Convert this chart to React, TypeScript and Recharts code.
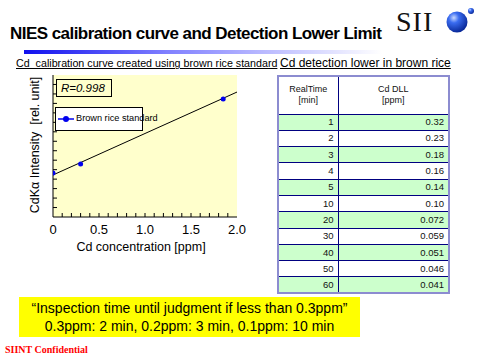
import React from "react";
import { ComposedChart, XAxis, YAxis, Line, Scatter, CartesianGrid } from "recharts";

const concentrations = [0, 0.3, 1.85];
const intensities = [4.65, 5.6, 12.47];
const fitConcentrations = [0, 2];
const fitIntensities = [4.44, 13.2];
const xTicks = [0, 0.1, 0.2, 0.3, 0.4, 0.5, 0.6, 0.7, 0.8, 0.9, 1.0, 1.1, 1.2, 1.3, 1.4, 1.5, 1.6, 1.7, 1.8, 1.9, 2.0];
const xLabelTicks = ["0", "0.5", "1.0", "1.5", "2.0"];
const yTicks = [0, 1, 2, 3, 4, 5, 6, 7, 8, 9, 10, 11, 12, 13, 14, 15];
const realTimeMin = ["1", "2", "3", "4", "5", "10", "20", "30", "40", "50", "60"];
const cdDll = ["0.32", "0.23", "0.18", "0.16", "0.14", "0.10", "0.072", "0.059", "0.051", "0.046", "0.041"];

const points = concentrations.map((x, i) => ({ x, y: intensities[i] }));
const fitLine = fitConcentrations.map((x, i) => ({ x, fit: fitIntensities[i] }));

const SANS = "'Liberation Sans', Arial, sans-serif";

const XTick = (props: any) => {
  const { x, y, payload } = props;
  const v = payload.value as number;
  const idx = Math.round(v * 10);
  const major = idx % 5 === 0;
  const label = major ? xLabelTicks[idx / 5] : null;
  return (
    <g>
      {idx !== 0 && idx !== 20 && <line x1={x} y1={y} x2={x} y2={y - 4} stroke="#000" strokeWidth={1} />}
      {label && (
        <text x={x} y={y + 17} textAnchor="middle" fontSize={13} fontFamily={SANS} fill="#000">
          {label}
        </text>
      )}
    </g>
  );
};

const YTick = (props: any) => {
  const { x, y, payload } = props;
  if (payload.value === 0 || payload.value === 15) return <g />;
  return <line x1={x} y1={y} x2={x + 4} y2={y} stroke="#000" strokeWidth={1} />;
};

const Dot = (props: any) => {
  const { cx, cy } = props;
  return <circle cx={cx} cy={cy} r={2.5} fill="#0000ee" />;
};

export default function App() {
  return (
    <div style={{ position: "absolute", left: 0, top: 0, width: 480, height: 360, background: "#fff", overflow: "hidden", fontFamily: SANS }}>
      {/* Title */}
      <div style={{ position: "absolute", left: 10, top: 24, fontSize: 17, fontWeight: "bold", color: "#000", whiteSpace: "nowrap", letterSpacing: -0.55 }}>
        NIES calibration curve and Detection Lower Limit
      </div>
      <div style={{ position: "absolute", left: 24, top: 50, width: 358, height: 4, background: "linear-gradient(to right, #1010ee, #8080ff 40%, #ffffff)" }} />
      {/* Logo */}
      <div style={{ position: "absolute", left: 396, top: 6, fontSize: 28, fontFamily: "'Liberation Serif', 'Times New Roman', serif", color: "#111", whiteSpace: "nowrap", letterSpacing: 1 }}>
        SII
      </div>
      <svg style={{ position: "absolute", left: 440, top: 0 }} width={40} height={40}>
        <defs>
          <radialGradient id="ball" cx="35%" cy="30%" r="70%">
            <stop offset="0%" stopColor="#c8d8ff" />
            <stop offset="35%" stopColor="#3a6cf0" />
            <stop offset="100%" stopColor="#0a2a9a" />
          </radialGradient>
        </defs>
        <circle cx={17} cy={22} r={10.5} fill="url(#ball)" />
        <circle cx={31} cy={11} r={3} fill="url(#ball)" />
      </svg>
      {/* Subtitles */}
      <div style={{ position: "absolute", left: 16, top: 57, fontSize: 10.7, textDecoration: "underline", whiteSpace: "nowrap", color: "#000" }}>
        Cd&nbsp; calibration curve created using brown rice standard
      </div>
      <div style={{ position: "absolute", left: 280, top: 56, fontSize: 12, textDecoration: "underline", whiteSpace: "nowrap", color: "#000" }}>
        Cd detection lower in brown rice
      </div>
      {/* Chart */}
      <div style={{ position: "absolute", left: 0, top: 70 }}>
        <ComposedChart width={250} height={200} margin={{ top: 5, right: 13, left: 0, bottom: 13 }}>
          <CartesianGrid fill="#ffffcc" horizontal={false} vertical={false} />
          <XAxis
            type="number"
            dataKey="x"
            domain={[0, 2]}
            ticks={xTicks}
            interval={0}
            height={40}
            tickSize={0}
            tickMargin={0}
            tickLine={false}
            tick={<XTick />}
            axisLine={{ stroke: "#000" }}
            allowDataOverflow
          />
          <XAxis xAxisId="top" orientation="top" type="number" domain={[0, 2]} height={0} tick={false} tickLine={false} axisLine={{ stroke: "#000" }} />
          <YAxis
            type="number"
            domain={[0, 15]}
            ticks={yTicks}
            interval={0}
            width={53}
            tickSize={0}
            tickMargin={0}
            tickLine={false}
            tick={<YTick />}
            axisLine={{ stroke: "#000" }}
            allowDataOverflow
          />
          <YAxis yAxisId="right" orientation="right" domain={[0, 15]} width={0} tick={false} tickLine={false} axisLine={{ stroke: "#000" }} />
          <Line data={fitLine} dataKey="fit" stroke="#000" strokeWidth={1} dot={false} isAnimationActive={false} legendType="none" />
          <Scatter data={points} dataKey="y" fill="#0000ee" shape={<Dot />} isAnimationActive={false} />
        </ComposedChart>
      </div>
      {/* In-plot boxes */}
      <div style={{ position: "absolute", left: 56, top: 79, width: 50, height: 16, border: "1px solid #000", background: "#ffffcc", fontSize: 11.5, fontStyle: "italic", lineHeight: "16px", paddingLeft: 4, boxSizing: "content-box", color: "#000" }}>
        R=0.998
      </div>
      <div style={{ position: "absolute", left: 55, top: 107, width: 86, height: 22, border: "1px solid #000", background: "#fff", fontSize: 9.2, lineHeight: "20px", whiteSpace: "nowrap", color: "#000" }}>
        <svg width={16} height={10} style={{ position: "absolute", left: 2, top: 6 }}>
          <line x1={0} y1={5} x2={16} y2={5} stroke="#0000ee" strokeWidth={1.5} />
          <circle cx={8} cy={5} r={3} fill="#0000ee" />
        </svg>
        <span style={{ position: "absolute", left: 20, top: 0 }}>Brown rice standard</span>
      </div>
      {/* Axis labels */}
      <div style={{ position: "absolute", left: 35, top: 145, transform: "translate(-50%, -50%) rotate(-90deg)", fontSize: 12.5, whiteSpace: "nowrap", color: "#000" }}>
        CdKα Intensity&nbsp; [rel. unit]
      </div>
      <div style={{ position: "absolute", left: 141, top: 247, transform: "translate(-50%, -50%)", fontSize: 12.5, whiteSpace: "nowrap", color: "#000" }}>
        Cd concentration [ppm]
      </div>
      {/* Table */}
      <table style={{ position: "absolute", left: 277, top: 75, width: 171, borderCollapse: "collapse", border: "2px solid #8c8cd0", fontSize: 9.5, color: "#111", tableLayout: "fixed" }}>
        <colgroup>
          <col style={{ width: 60 }} />
          <col style={{ width: 111 }} />
        </colgroup>
        <thead>
          <tr style={{ height: 38, background: "#fff" }}>
            <th style={{ border: "1px solid #000080", fontWeight: "normal", fontSize: 9, lineHeight: "11px", padding: 0 }}>RealTime<br />[min]</th>
            <th style={{ border: "1px solid #000080", fontWeight: "normal", fontSize: 9, lineHeight: "11px", padding: 0 }}>Cd DLL<br />[ppm]</th>
          </tr>
        </thead>
        <tbody>
          {realTimeMin.map((t, i) => (
            <tr key={t} style={{ height: 16.3, background: i % 2 === 0 ? "#ccffcc" : "#fff" }}>
              <td style={{ border: "1px solid #000080", textAlign: "right", padding: "0 4px 0 0", lineHeight: "14px" }}>{t}</td>
              <td style={{ border: "1px solid #000080", textAlign: "right", padding: "0 4px 0 0", lineHeight: "14px" }}>{cdDll[i]}</td>
            </tr>
          ))}
        </tbody>
      </table>
      {/* Yellow note */}
      <div style={{ position: "absolute", left: 19, top: 297, width: 341, height: 40, background: "#ffff00", fontSize: 14, lineHeight: "18px", textAlign: "center", color: "#000", paddingTop: 2, boxSizing: "border-box", whiteSpace: "nowrap" }}>
        “Inspection time until judgment if less than 0.3ppm”<br />0.3ppm: 2 min, 0.2ppm: 3 min, 0.1ppm: 10 min
      </div>
      {/* Confidential */}
      <div style={{ position: "absolute", left: 5, top: 344, fontSize: 10, fontWeight: "bold", fontFamily: "'Liberation Serif', 'Times New Roman', serif", color: "#ff0000", whiteSpace: "nowrap" }}>
        SIINT Confidential
      </div>
    </div>
  );
}
